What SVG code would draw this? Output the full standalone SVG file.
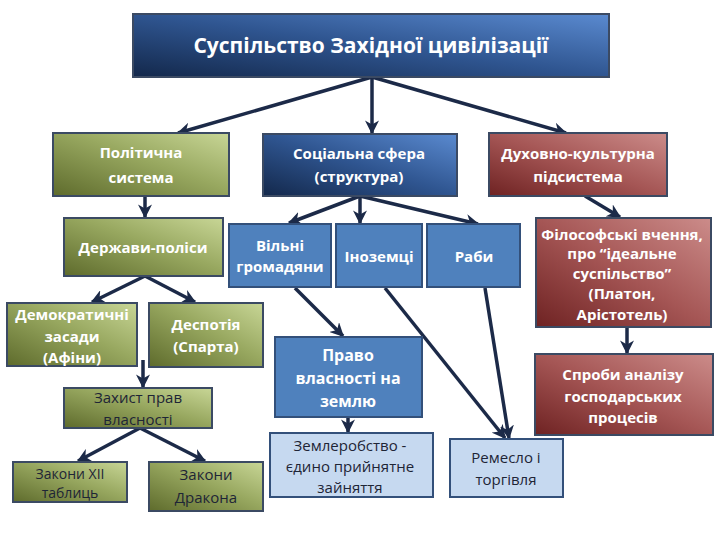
<svg xmlns="http://www.w3.org/2000/svg" width="720" height="540" viewBox="0 0 720 540">
<defs>
<linearGradient id="gBlue" x1="0" y1="1" x2="1" y2="0">
<stop offset="0" stop-color="#13284b"/><stop offset="0.5" stop-color="#2f5590"/><stop offset="1" stop-color="#5a8ad0"/>
</linearGradient>
<linearGradient id="gGreen" x1="0" y1="1" x2="1" y2="0">
<stop offset="0" stop-color="#5e6b2c"/><stop offset="0.55" stop-color="#98a860"/><stop offset="1" stop-color="#c8d696"/>
</linearGradient>
<linearGradient id="gRed" x1="0" y1="1" x2="1" y2="0">
<stop offset="0" stop-color="#6e2222"/><stop offset="0.5" stop-color="#a55655"/><stop offset="1" stop-color="#cc8c8a"/>
</linearGradient>
<marker id="ah" viewBox="0 0 10 10" refX="9" refY="5" markerWidth="4" markerHeight="4" orient="auto" markerUnits="strokeWidth">
<path d="M0,0 L10,5 L0,10 L3,5 Z" fill="#1c2a48"/>
</marker>
<style>
.b{stroke:#3b4a63;stroke-width:2}
.blue{fill:url(#gBlue)}
.green{fill:url(#gGreen)}
.red{fill:url(#gRed)}
.mid{fill:#4f81bd;stroke:#33507a}
.lite{fill:#c6d9f0;stroke:#33507a}
text{font-family:"Open Sans","Liberation Sans",sans-serif;text-anchor:middle}
.w{fill:#ffffff;font-weight:bold;font-size:15px}
.d{fill:#1e2536;font-size:15px}
.c line{stroke:#1c2a48;stroke-width:3.5;marker-end:url(#ah)}
</style>
</defs>
<rect width="720" height="540" fill="#ffffff"/>

<g id="connectors" class="c">
<line x1="372" y1="77" x2="178" y2="133"/>
<line x1="372" y1="77" x2="372" y2="133"/>
<line x1="372" y1="77" x2="566" y2="133"/>
<line x1="145" y1="196" x2="145" y2="217"/>
<line x1="145" y1="276" x2="92" y2="302"/>
<line x1="145" y1="276" x2="195" y2="302"/>
<line x1="143" y1="360" x2="143" y2="387"/>
<line x1="140" y1="428" x2="78" y2="461"/>
<line x1="140" y1="428" x2="205" y2="461"/>
<line x1="360" y1="196" x2="289" y2="223"/>
<line x1="360" y1="196" x2="360" y2="223"/>
<line x1="360" y1="196" x2="478" y2="224"/>
<line x1="295" y1="288" x2="343" y2="336"/>
<line x1="348" y1="417" x2="348" y2="432"/>
<line x1="385" y1="288" x2="505" y2="438"/>
<line x1="485" y1="288" x2="509" y2="438"/>
<line x1="585" y1="196" x2="620" y2="217"/>
<line x1="627" y1="327" x2="627" y2="353"/>
</g>

<g id="n-root"><rect class="b blue" x="133" y="14" width="476" height="63"/>
<text x="371" y="53" class="w" style="font-size:21px">Суспільство Західної цивілізації</text></g>

<g id="n-polit"><rect class="b green" x="53" y="133" width="176" height="63"/>
<text x="141" y="158" class="w">Політична</text><text x="141" y="183" class="w">система</text></g>

<g id="n-derzh"><rect class="b green" x="64" y="218" width="159" height="58"/>
<text x="143" y="253" class="w">Держави-поліси</text></g>

<g id="n-demo"><rect class="b green" x="7" y="303" width="130" height="63"/>
<text x="72" y="320" class="w">Демократичні</text><text x="72" y="342" class="w">засади</text><text x="72" y="363" class="w">(Афіни)</text></g>

<g id="n-desp"><rect class="b green" x="149" y="303" width="114" height="64"/>
<text x="206" y="330" class="w">Деспотія</text><text x="206" y="352" class="w">(Спарта)</text></g>

<g id="n-zakhyst"><rect class="b green" x="64" y="388" width="148" height="40"/>
<text x="138" y="403" class="d">Захист прав</text><text x="138" y="425" class="d">власності</text></g>

<g id="n-xii"><rect class="b green" x="13" y="462" width="114" height="40"/>
<text x="70" y="479" class="d" style="font-size:14px">Закони XII</text><text x="70" y="498" class="d" style="font-size:14px">таблиць</text></g>

<g id="n-drakon"><rect class="b green" x="149" y="462" width="114" height="49"/>
<text x="206" y="480" class="d">Закони</text><text x="206" y="503" class="d">Дракона</text></g>

<g id="n-soc"><rect class="b blue" x="263" y="134" width="194" height="62"/>
<text x="359" y="159" class="w">Соціальна сфера</text><text x="359" y="182" class="w">(структура)</text></g>

<g id="n-vilni"><rect class="mid" stroke-width="2" x="229" y="224" width="102" height="63"/>
<text x="280" y="251" class="w">Вільні</text><text x="280" y="272" class="w">громадяни</text></g>

<g id="n-inozem"><rect class="mid" stroke-width="2" x="336" y="224" width="86" height="63"/>
<text x="379" y="262" class="w">Іноземці</text></g>

<g id="n-raby"><rect class="mid" stroke-width="2" x="427" y="224" width="93" height="63"/>
<text x="474" y="262" class="w">Раби</text></g>

<g id="n-pravo"><rect class="mid" stroke-width="2" x="275" y="337" width="147" height="80"/>
<text x="348" y="361" class="w" style="font-size:16px">Право</text><text x="348" y="384" class="w" style="font-size:16px">власності на</text><text x="348" y="407" class="w" style="font-size:16px">землю</text></g>

<g id="n-zemlero"><rect class="lite" stroke-width="2" x="270" y="433" width="163" height="64"/>
<text x="350" y="451" class="d">Землеробство -</text><text x="350" y="472" class="d">єдино прийнятне</text><text x="350" y="493" class="d">зайняття</text></g>

<g id="n-remeslo"><rect class="lite" stroke-width="2" x="450" y="439" width="113" height="58"/>
<text x="506" y="463" class="d">Ремесло і</text><text x="506" y="485" class="d">торгівля</text></g>

<g id="n-dukh"><rect class="b red" x="489" y="133" width="178" height="63"/>
<text x="578" y="159" class="w">Духовно-культурна</text><text x="578" y="182" class="w">підсистема</text></g>

<g id="n-filos"><rect class="b red" x="536" y="218" width="175" height="109"/>
<text x="622" y="240" class="w">Філософські вчення,</text><text x="622" y="259" class="w">про “ідеальне</text><text x="622" y="279" class="w">суспільство”</text><text x="622" y="299" class="w">(Платон,</text><text x="622" y="320" class="w">Арістотель)</text></g>

<g id="n-sproby"><rect class="b red" x="535" y="354" width="178" height="81"/>
<text x="623" y="380" class="w">Спроби аналізу</text><text x="623" y="402" class="w">господарських</text><text x="623" y="423" class="w">процесів</text></g>
</svg>
